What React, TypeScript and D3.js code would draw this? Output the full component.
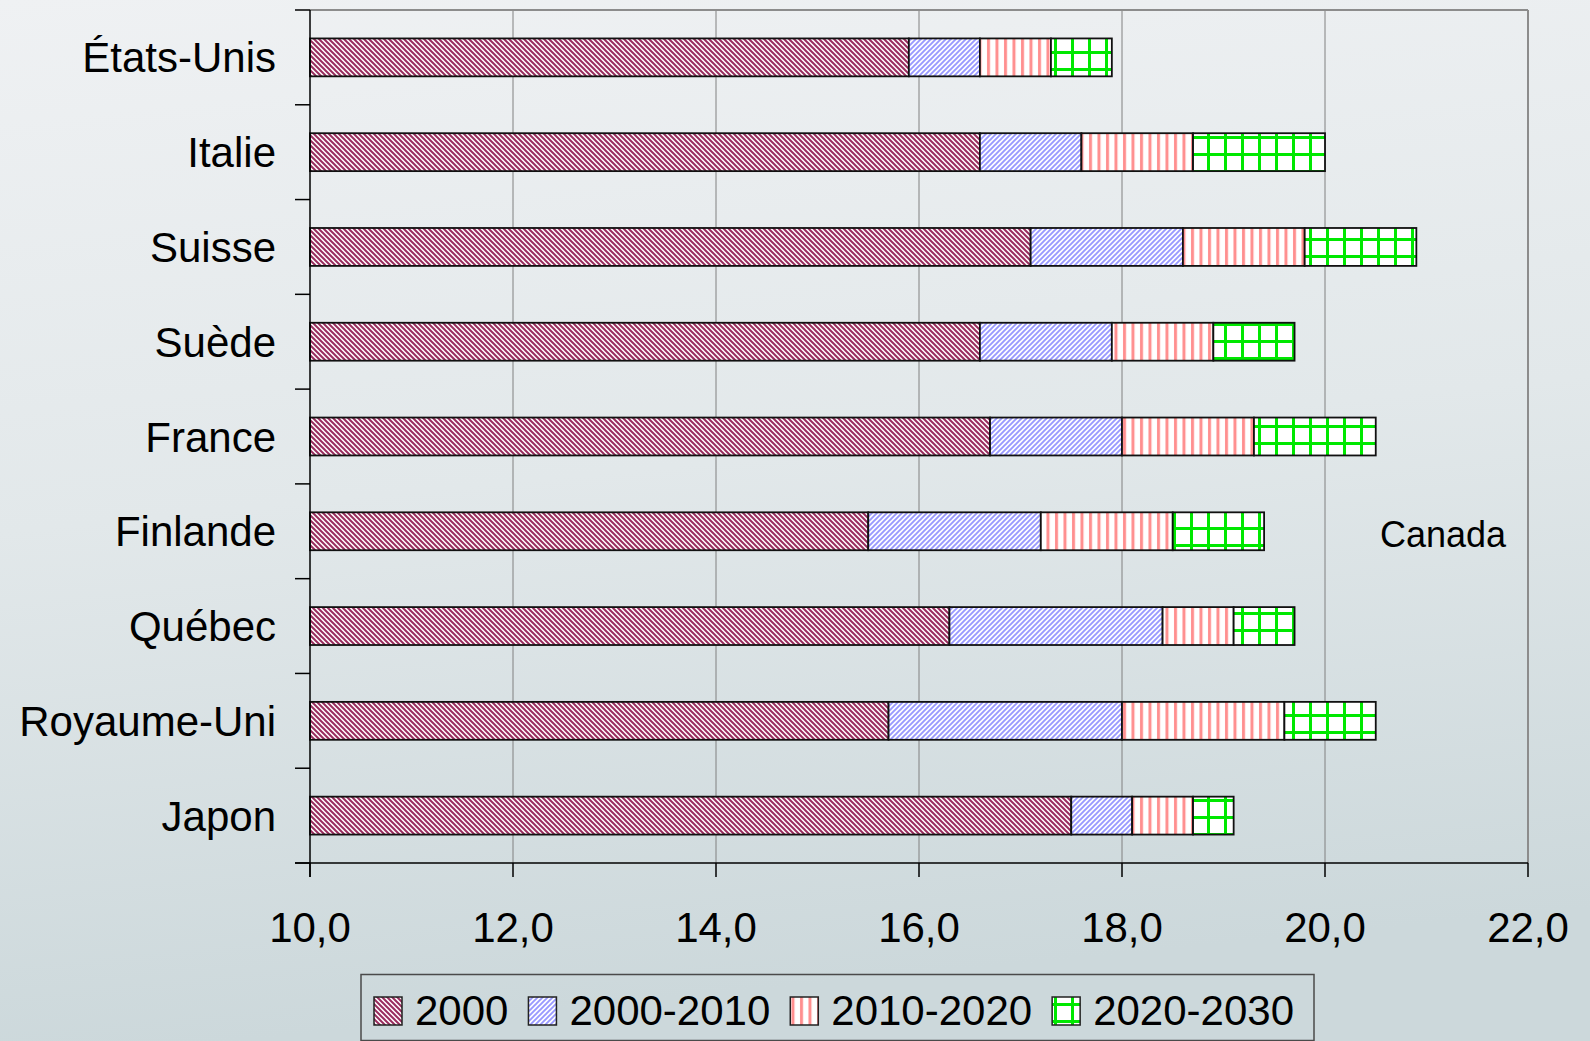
import React from 'react';
import * as d3 from 'd3';

const categories = ['États-Unis', 'Italie', 'Suisse', 'Suède', 'France', 'Finlande', 'Québec', 'Royaume-Uni', 'Japon'];
const seriesNames = ['2000', '2000-2010', '2010-2020', '2020-2030'];
const v2000 = [15.9, 16.6, 17.1, 16.6, 16.7, 15.5, 16.3, 15.7, 17.5];
const v2000to2010 = [0.7, 1.0, 1.5, 1.3, 1.3, 1.7, 2.1, 2.3, 0.6];
const v2010to2020 = [0.7, 1.1, 1.2, 1.0, 1.3, 1.3, 0.7, 1.6, 0.6];
const v2020to2030 = [0.6, 1.3, 1.1, 0.8, 1.2, 0.9, 0.6, 0.9, 0.4];
const xTicks = [10, 12, 14, 16, 18, 20, 22];
const sideNote = 'Canada';

const W = 1590;
const H = 1041;
const FONT = "'Liberation Sans', Arial, sans-serif";

const rows = categories.map((c, i) => ({
  country: c,
  '2000': v2000[i],
  '2000-2010': v2000to2010[i],
  '2010-2020': v2010to2020[i],
  '2020-2030': v2020to2030[i],
}));

const patternIds = ['p2000', 'p2000_2010', 'p2010_2020', 'p2020_2030'];

const measure = (txt: string, font: string) => {
  const ctx = document.createElement('canvas').getContext('2d');
  if (!ctx) return txt.length * 23;
  ctx.font = font;
  return ctx.measureText(txt).width;
};

const App = () => {
  const left = 310, right = 1528, top = 10, bottom = 863;

  const x = d3.scaleLinear().domain([10, 22]).range([left, right]);
  const y = d3.scaleBand<string>().domain(categories).range([top, bottom])
    .paddingInner(0.6).paddingOuter(0.3);

  const stack = d3.stack<any>().keys(seriesNames);
  const layers = stack(rows);
  const fmt = (v: number) => d3.format('.1f')(v).replace('.', ',');

  // y tick positions sit between categories
  const step = y.step();
  const yTicks = d3.range(categories.length + 1).map(i => top + i * step);

  // legend layout
  const legendFont = `42px ${FONT}`;
  let lx = 374;
  const legendItems = seriesNames.map((name, i) => {
    const item = { name, x: lx, pid: patternIds[i] };
    lx += 28 + 13 + measure(name, legendFont) + 20;
    return item;
  });

  return (
    <svg width={W} height={H} style={{ position: 'absolute', left: 0, top: 0 }}>
      <defs>
        <linearGradient id="bg" x1="0" y1="0" x2="0.15" y2="1">
          <stop offset="0" stopColor="#eff1f3" />
          <stop offset="0.5" stopColor="#e2e8ea" />
          <stop offset="1" stopColor="#ccd8db" />
        </linearGradient>
        <pattern id="p2000" patternUnits="userSpaceOnUse" width={5} height={5}>
          <rect width={5} height={5} fill="#fff" />
          <path d="M-1,-1 L6,6 M-1,4 L1,6 M4,-1 L6,1" stroke="#9a2d5e" strokeWidth={2} />
        </pattern>
        <pattern id="p2000_2010" patternUnits="userSpaceOnUse" width={5} height={5}>
          <rect width={5} height={5} fill="#fff" />
          <path d="M-1,6 L6,-1 M-1,1 L1,-1 M4,6 L6,4" stroke="#9999ff" strokeWidth={1.9} />
        </pattern>
        <pattern id="p2010_2020" patternUnits="userSpaceOnUse" width={8.5} height={8}>
          <rect width={8.5} height={8} fill="#fff" />
          <rect x={1} width={3} height={8} fill="#ff8f8f" />
        </pattern>
        <pattern id="p2020_2030" patternUnits="userSpaceOnUse" width={17} height={17}>
          <rect width={17} height={17} fill="#fff" />
          <rect x={0} width={3} height={17} fill="#00e800" />
          <rect y={0} width={17} height={3} fill="#00e800" />
        </pattern>
      </defs>

      <rect width={W} height={H} fill="url(#bg)" />

      {/* grid */}
      {xTicks.slice(1, -1).map(t => (
        <line key={t} x1={x(t)} x2={x(t)} y1={top} y2={bottom} stroke="#808080" strokeWidth={1} />
      ))}
      <line x1={left} x2={right} y1={top} y2={top} stroke="#8c8c8c" strokeWidth={2} />
      <line x1={right} x2={right} y1={top} y2={bottom} stroke="#8c8c8c" strokeWidth={2} />

      {/* bars */}
      {layers.map((layer, si) => (
        <g key={layer.key}>
          {layer.map((d, i) => {
            const x0 = x(Math.max(10, d[0]));
            const x1 = x(d[1]);
            return (
              <rect key={i} x={x0} y={y(categories[i])} width={x1 - x0} height={y.bandwidth()}
                fill={`url(#${patternIds[si]})`} stroke="#111" strokeWidth={1.8} />
            );
          })}
        </g>
      ))}

      {/* axes */}
      <line x1={left} x2={left} y1={top} y2={bottom + 14} stroke="#000" strokeWidth={1.5} />
      <line x1={left - 15} x2={right} y1={bottom} y2={bottom} stroke="#000" strokeWidth={1.5} />
      {yTicks.map((t, i) => (
        <line key={i} x1={left - 15} x2={left} y1={t} y2={t} stroke="#000" strokeWidth={1.5} />
      ))}
      {xTicks.map(t => (
        <line key={t} x1={x(t)} x2={x(t)} y1={bottom} y2={bottom + 14} stroke="#000" strokeWidth={1.5} />
      ))}

      {xTicks.map(t => (
        <text key={t} x={x(t)} y={942} textAnchor="middle" fontFamily={FONT} fontSize={42} fill="#000">
          {fmt(t)}
        </text>
      ))}

      {categories.map(c => (
        <text key={c} x={276} y={(y(c) ?? 0) + y.bandwidth() / 2 + 15} textAnchor="end"
          fontFamily={FONT} fontSize={42} fill="#000">
          {c}
        </text>
      ))}

      <text x={1380} y={547} fontFamily={FONT} fontSize={36} fill="#000">{sideNote}</text>

      {/* legend */}
      <rect x={361} y={974.5} width={953} height={66} fill="none" stroke="#4a4a4a" strokeWidth={1.5} />
      {legendItems.map(it => (
        <g key={it.name}>
          <rect x={it.x} y={997} width={28} height={28} fill={`url(#${it.pid})`} stroke="#222" strokeWidth={1.5} />
          <text x={it.x + 41} y={1025} fontFamily={FONT} fontSize={42} fill="#000">{it.name}</text>
        </g>
      ))}
    </svg>
  );
};

export default App;
